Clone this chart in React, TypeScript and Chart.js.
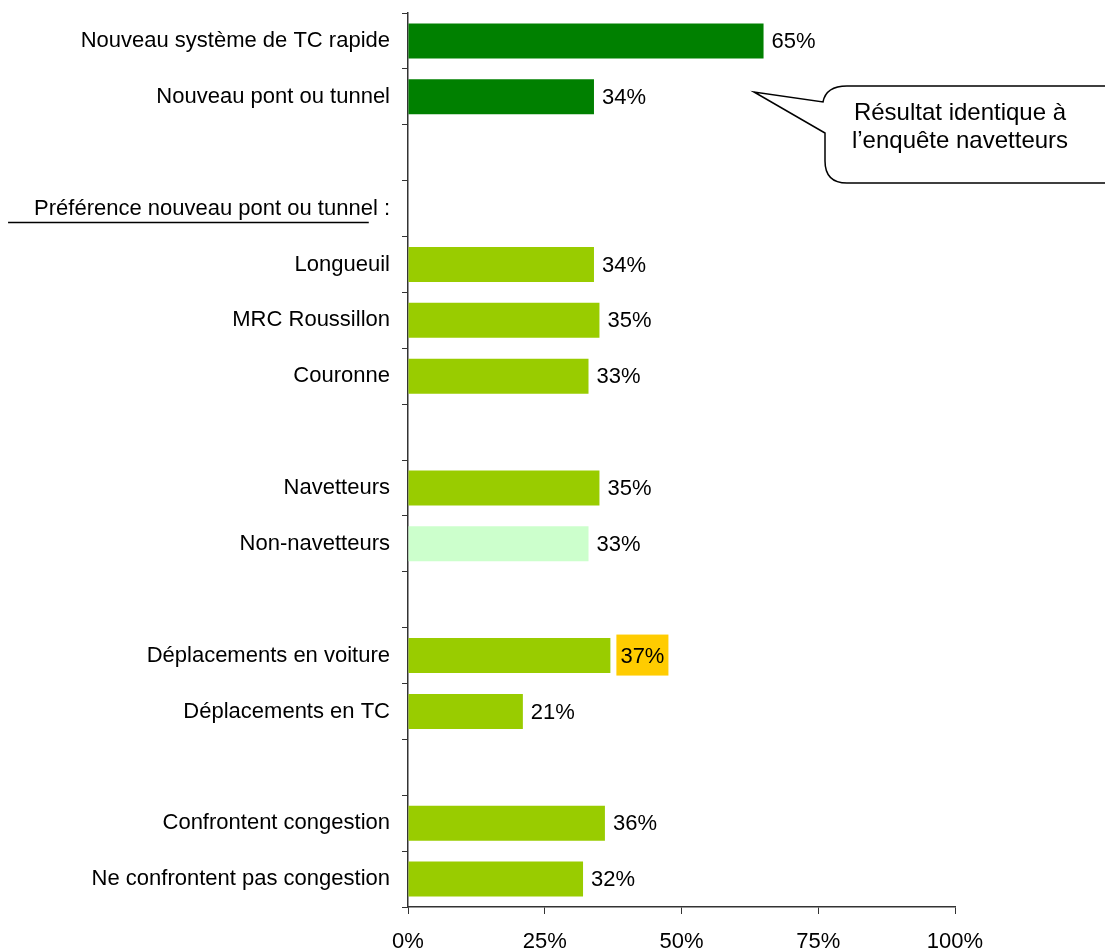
import React, { useEffect, useRef } from "react";
import { Chart, registerables } from "chart.js";

Chart.register(...registerables);

const categories: string[] = [
  "Nouveau système de TC rapide",
  "Nouveau pont ou tunnel",
  "",
  "Préférence nouveau pont ou tunnel :",
  "Longueuil",
  "MRC Roussillon",
  "Couronne",
  "",
  "Navetteurs",
  "Non-navetteurs",
  "",
  "Déplacements en voiture",
  "Déplacements en TC",
  "",
  "Confrontent congestion",
  "Ne confrontent pas congestion",
];

const values: (number | null)[] = [65, 34, null, null, 34, 35, 33, null, 35, 33, null, 37, 21, null, 36, 32];

const barColors: string[] = [
  "#008000", "#008000", "#99CC00", "#99CC00", "#99CC00", "#99CC00", "#99CC00", "#99CC00",
  "#99CC00", "#CCFFCC", "#99CC00", "#99CC00", "#99CC00", "#99CC00", "#99CC00", "#99CC00",
];

const highlightIndex = 11;
const underlinedIndex = 3;
const calloutLines: string[] = ["Résultat identique à", "l’enquête navetteurs"];
const xTicks: number[] = [0, 25, 50, 75, 100];

const FONT = "Liberation Sans, Arial, sans-serif";
const FS = 22;

const overlayPlugin = {
  id: "overlay",
  afterDatasetsDraw(chart: any) {
    const ctx = chart.ctx as CanvasRenderingContext2D;
    const meta = chart.getDatasetMeta(0);
    ctx.save();
    ctx.font = `${FS}px ${FONT}`;
    ctx.textBaseline = "middle";
    ctx.textAlign = "left";
    meta.data.forEach((bar: any, i: number) => {
      const v = values[i];
      if (v === null || v === undefined) return;
      const txt = `${v}%`;
      const x = bar.x + 8;
      const y = bar.y + 1;
      if (i === highlightIndex) {
        const w = ctx.measureText(txt).width;
        ctx.fillStyle = "#FFCC00";
        ctx.fillRect(x - 2, bar.y - 21, w + 8, 41);
        ctx.fillStyle = "#000";
        ctx.fillText(txt, x + 2, y);
      } else {
        ctx.fillStyle = "#000";
        ctx.fillText(txt, x, y);
      }
    });

    // underline for the group heading
    const yScale = chart.scales.y;
    const yc = yScale.getPixelForValue(underlinedIndex);
    const right = yScale.right - 18;
    const full = ctx.measureText(categories[underlinedIndex]).width;
    const tail = ctx.measureText(" :").width;
    ctx.strokeStyle = "#000";
    ctx.lineWidth = 1.5;
    ctx.beginPath();
    ctx.moveTo(right - full - 26, yc + 14);
    ctx.lineTo(right - tail - 9, yc + 14);
    ctx.stroke();

    // callout
    const left = 825, top = 86, rgt = 1130, bottom = 183, r = 22;
    ctx.fillStyle = "#fff";
    ctx.strokeStyle = "#000";
    ctx.lineWidth = 1.5;
    ctx.beginPath();
    ctx.moveTo(left + r, top);
    ctx.lineTo(rgt - r, top);
    ctx.quadraticCurveTo(rgt, top, rgt, top + r);
    ctx.lineTo(rgt, bottom - r);
    ctx.quadraticCurveTo(rgt, bottom, rgt - r, bottom);
    ctx.lineTo(left + r, bottom);
    ctx.quadraticCurveTo(left, bottom, left, bottom - r);
    ctx.lineTo(left, 133);
    ctx.lineTo(754, 92);
    ctx.lineTo(823, 102);
    ctx.quadraticCurveTo(826, top, left + r, top);
    ctx.closePath();
    ctx.fill();
    ctx.stroke();
    ctx.fillStyle = "#000";
    ctx.textAlign = "center";
    ctx.font = `24px ${FONT}`;
    ctx.fillText(calloutLines[0], 960, 113);
    ctx.fillText(calloutLines[1], 960, 141);
    ctx.restore();
  },
};

export default function App() {
  const ref = useRef<HTMLCanvasElement | null>(null);
  useEffect(() => {
    document.body.style.margin = "0";
    if (!ref.current) return;
    const chart = new Chart(ref.current, {
      type: "bar",
      data: {
        labels: categories,
        datasets: [
          {
            data: values as any,
            backgroundColor: barColors,
            borderWidth: 0,
            barPercentage: 0.625,
            categoryPercentage: 1,
          },
        ],
      },
      options: {
        indexAxis: "y",
        animation: false,
        responsive: false,
        maintainAspectRatio: false,
        devicePixelRatio: 1,
        layout: { padding: { top: 13, right: 150, left: 0, bottom: 0 } },
        plugins: { legend: { display: false }, tooltip: { enabled: false } },
        scales: {
          x: {
            type: "linear",
            min: 0,
            max: 100,
            afterBuildTicks: (s: any) => {
              s.ticks = xTicks.map((v) => ({ value: v }));
            },
            ticks: {
              callback: (v: any) => `${v}%`,
              color: "#000",
              font: { family: FONT, size: FS },
              padding: 15,
              maxRotation: 0,
            },
            grid: { drawOnChartArea: false, tickLength: 7, color: "#333", lineWidth: 1 },
            border: { color: "#333", width: 1.5 },
            afterFit: (s: any) => {
              s.height = 44;
              s.paddingLeft = 0;
              s.paddingRight = 0;
            },
          },
          y: {
            type: "category",
            ticks: {
              color: "#000",
              font: { family: FONT, size: FS },
              padding: 12,
              autoSkip: false,
            },
            grid: { drawOnChartArea: false, tickLength: 6, color: "#333", offset: true },
            border: { color: "#333", width: 1.5 },
            afterFit: (s: any) => {
              s.width = 408;
              s.paddingTop = 0;
              s.paddingBottom = 0;
            },
          },
        },
      },
      plugins: [overlayPlugin],
    });
    return () => chart.destroy();
  }, []);
  return (
    <div style={{ width: 1105, height: 951 }}>
      <canvas ref={ref} width={1105} height={951} style={{ display: "block" }} />
    </div>
  );
}
